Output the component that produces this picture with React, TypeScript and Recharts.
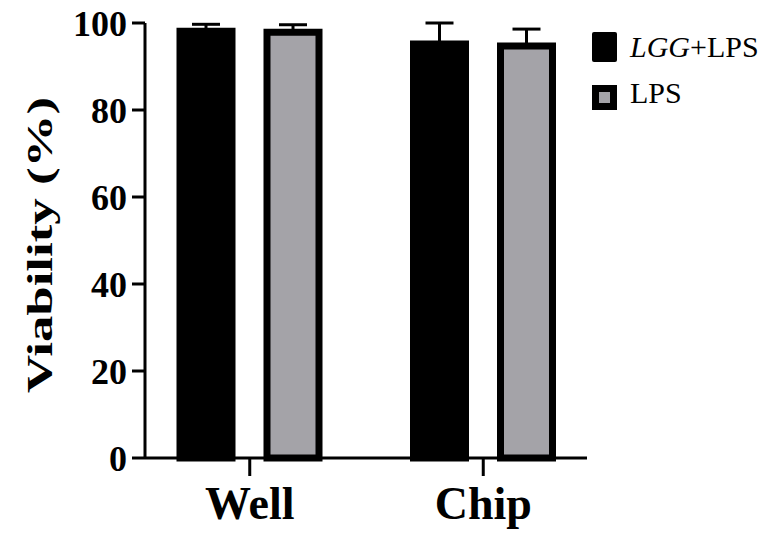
import { Bar, BarChart, ErrorBar, Label, Legend, XAxis, YAxis } from "recharts";

const groups = ["Well", "Chip"];
const lggLps = [98.1, 95.2];
const lggLpsErr = [1.6, 4.8];
const lps = [97.9, 94.7];
const lpsErr = [1.7, 3.9];
const yTicks = [0, 20, 40, 60, 80, 100];

const data = groups.map((g, i) => ({
  group: g,
  lggLps: lggLps[i],
  lggLpsErr: [0, lggLpsErr[i]],
  lps: lps[i],
  lpsErr: [0, lpsErr[i]],
}));

const serif = "'Times New Roman', 'Liberation Serif', serif";
const grey = "#a4a3a8";

const legendContent = () => (
  <svg width={190} height={90}>
    <rect x={0} y={2} width={25} height={30} rx={2} fill="#000" />
    <text x={38} y={27} fontFamily={serif} fontSize={30} fill="#000">
      <tspan fontStyle="italic">LGG</tspan>+LPS
    </text>
    <rect x={0} y={55} width={25} height={25} fill="#000" />
    <rect x={7} y={62} width={11} height={11} fill={grey} />
    <text x={38} y={73} fontFamily={serif} fontSize={30} fill="#000">
      LPS
    </text>
  </svg>
);

const yLabel = () => (
  <text
    x={52}
    y={245}
    transform="rotate(-90, 52, 245)"
    textAnchor="middle"
    fontFamily={serif}
    fontWeight="bold"
    fontSize={35}
    fill="#000"
    textLength={296}
    lengthAdjust="spacingAndGlyphs"
  >
    Viability (%)
  </text>
);

export default function App() {
  return (
    <div style={{ position: "absolute", left: 0, top: 0 }}>
      <BarChart
        width={782}
        height={537}
        data={data}
        margin={{ top: 23, right: 195, bottom: 0, left: 0 }}
        barSize={52}
        barGap={35}
      >
        <XAxis
          dataKey="group"
          height={79}
          padding={{ left: -12, right: -13 }}
          axisLine={{ stroke: "#000", strokeWidth: 3 }}
          tickLine={{ stroke: "#000", strokeWidth: 3 }}
          tickSize={18}
          tickMargin={10}
          tick={{ fontFamily: serif, fontWeight: "bold", fontSize: 46, fill: "#000" }}
        />
        <YAxis
          width={145}
          domain={[0, 100]}
          ticks={yTicks}
          axisLine={{ stroke: "#000", strokeWidth: 3 }}
          tickLine={{ stroke: "#000", strokeWidth: 3 }}
          tickSize={13}
          tickMargin={5}
          tick={{ fontFamily: serif, fontWeight: "bold", fontSize: 36, fill: "#000" }}
        >
          <Label content={yLabel} />
        </YAxis>
        <Legend
          layout="vertical"
          align="center"
          verticalAlign="middle"
          wrapperStyle={{ position: "absolute", left: 592, top: 30, width: 190 }}
          content={legendContent}
        />
        <Bar dataKey="lggLps" fill="#000" stroke="#000" strokeWidth={7} isAnimationActive={false}>
          <ErrorBar dataKey="lggLpsErr" width={14} stroke="#000" strokeWidth={3} />
        </Bar>
        <Bar dataKey="lps" fill={grey} stroke="#000" strokeWidth={7} isAnimationActive={false}>
          <ErrorBar dataKey="lpsErr" width={14} stroke="#000" strokeWidth={3} />
        </Bar>
      </BarChart>
    </div>
  );
}
